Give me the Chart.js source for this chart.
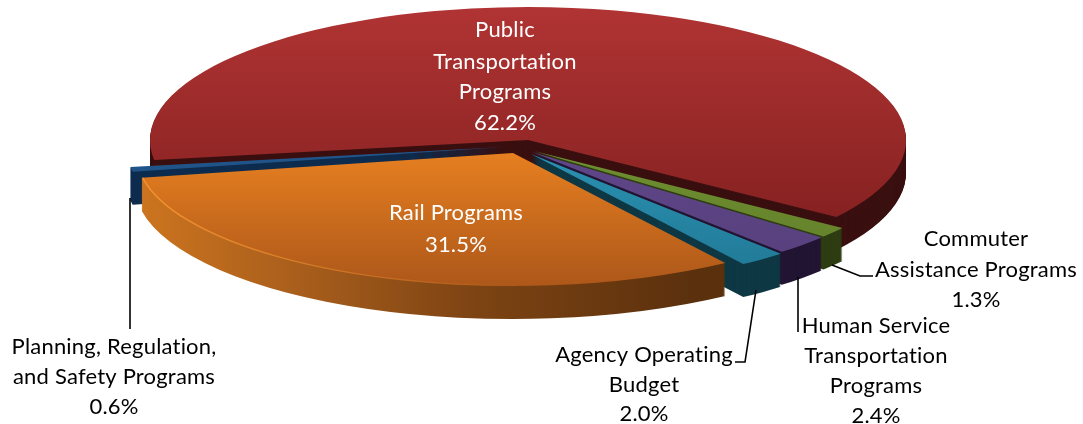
<!DOCTYPE html>
<html><head><meta charset="utf-8">
<style>html,body{margin:0;padding:0;background:#fff}canvas{display:block}</style>
<script src="https://cdn.jsdelivr.net/npm/chart.js@4"></script>
</head><body>
<canvas id="c" width="1083" height="424"></canvas>
<script>
const categories = ["Public Transportation Programs","Commuter Assistance Programs","Human Service Transportation Programs","Agency Operating Budget","Rail Programs","Planning, Regulation, and Safety Programs"];
const shares = [62.2,1.3,2.4,2.0,31.5,0.6];
const startAngle = 261.4;

const topColors = ["#B03433","#6E8F30","#5F4689","#2A90B0","#E67F20","#21568C"];
const bottomColors = ["#862121","#627F2A","#57407C","#217A97","#AE581A","#1C4675"];
const wallColors = ["#3A0F0F","#2E3D12","#221533","#0F3845",null,"#0E2C4E"];
const orangeWall = ["#CC741F","#A85E1C","#7E4413","#5A300D"];

const sliceShift = [[0,0],[6,11],[4,12],[3,14],[-15,13],[-24,7]];
const drawOrder = [0,5,1,2,3,4];
const RX = 378, TILT = 0.352, CX = 528, CY = 140, DEPTH = 33;

const labelBlocks = [
 {lines:["Public","Transportation","Programs","62.2%"],x:505,ys:[30,62,92,123],color:"#fff"},
 {lines:["Rail Programs","31.5%"],x:456,ys:[213,245],color:"#fff"},
 {lines:["Commuter","Assistance Programs","1.3%"],x:976,ys:[239,270,300],color:"#000"},
 {lines:["Human Service","Transportation","Programs","2.4%"],x:876,ys:[326,356,386,416],color:"#000"},
 {lines:["Agency Operating","Budget","2.0%"],x:644,ys:[355,385,414],color:"#000"},
 {lines:["Planning, Regulation,","and Safety Programs","0.6%"],x:114,ys:[347,377,407],color:"#000"}
];
const leaders = [
 [[832,265],[860,276],[873,276]],
 [[798,277],[798,332]],
 [[756,290],[745,362],[735,362]],
 [[130,198],[130,329]]
];

const userY = sy => 212 + (sy - CY) / TILT;

function topFill(ctx){
  const i = ctx.dataIndex;
  const y0 = i===0 ? 7 : 140;
  const y1 = i===0 ? 220 : (i===4 ? 270 : 260);
  const g = ctx.chart.ctx.createLinearGradient(0,userY(y0),0,userY(y1));
  g.addColorStop(0,topColors[i]); g.addColorStop(1,bottomColors[i]);
  return g;
}

const pie3d = {
  id:"pie3d",
  beforeDatasetDraw(chart,args){
    const ctx = chart.ctx, meta = chart.getDatasetMeta(args.index);
    const project = (sx,sy)=>{
      ctx.translate(CX+sx,CY+sy);
      ctx.scale(1,TILT);
      ctx.translate(-chart.chartArea.left-chart.chartArea.width/2,-chart.chartArea.top-chart.chartArea.height/2);
    };
    for(const i of drawOrder){
      const el = meta.data[i];
      const [sx,sy] = sliceShift[i];
      let wall = wallColors[i];
      if(!wall){
        wall = ctx.createLinearGradient(el.x-RX,0,el.x+RX,0);
        const stops=[[142,0],[300,1],[470,2],[700,3]];
        stops.forEach(([px,k])=>{
          const t=(px-(CX+sx-RX))/(2*RX);
          wall.addColorStop(Math.max(0,Math.min(1,t)),orangeWall[k]);
        });
      }
      const proxy = Object.create(el);
      proxy.options = Object.assign({},el.options,{backgroundColor:wall,borderWidth:0});
      for(let d=DEPTH;d>=1;d--){
        ctx.save(); project(sx,sy+d);
        el.draw.call(proxy,ctx);
        ctx.restore();
      }
      ctx.save(); project(sx,sy);
      el.draw(ctx);
      if(i===4){
        ctx.beginPath();
        ctx.arc(el.x,el.y,el.outerRadius-1,el.startAngle+0.55,el.endAngle);
        ctx.restore();
        const h = ctx.createLinearGradient(142,0,520,0);
        h.addColorStop(0,"rgba(244,150,50,.9)");
        h.addColorStop(1,"rgba(244,150,50,0)");
        ctx.strokeStyle=h; ctx.lineWidth=1.5; ctx.stroke();
      } else ctx.restore();
    }
    return false;
  },
  afterDraw(chart){
    const ctx = chart.ctx;
    ctx.save();
    ctx.strokeStyle="#000"; ctx.lineWidth=1.6;
    for(const l of leaders){
      ctx.beginPath();
      l.forEach(([x,y],k)=>k?ctx.lineTo(x,y):ctx.moveTo(x,y));
      ctx.stroke();
    }
    ctx.font='22px Lato, "Open Sans", sans-serif';
    ctx.textAlign="center"; ctx.textBaseline="middle";
    if("letterSpacing" in ctx) ctx.letterSpacing="0.2px";
    for(const b of labelBlocks){
      ctx.fillStyle=b.color;
      b.lines.forEach((t,k)=>ctx.fillText(t,b.x,b.ys[k]));
    }
    ctx.restore();
  }
};

new Chart(document.getElementById("c"),{
  type:"pie",
  data:{labels:categories,datasets:[{data:shares,backgroundColor:topFill,borderWidth:0,radius:RX,offset:0}]},
  options:{
    responsive:false,animation:false,rotation:startAngle,
    layout:{padding:0},
    plugins:{legend:{display:false},tooltip:{enabled:false},title:{display:false}}
  },
  plugins:[pie3d]
});
</script>
</body></html>
